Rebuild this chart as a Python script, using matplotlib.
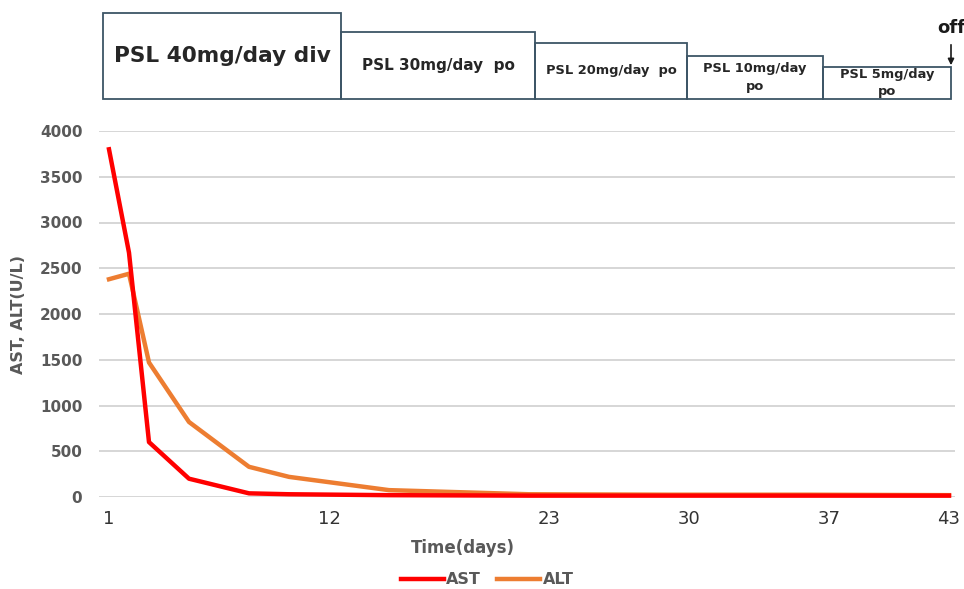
import matplotlib.pyplot as plt
from matplotlib.patches import Rectangle

# data
days = [1, 2, 3, 5, 8, 10, 15, 22, 29, 36, 43]
ast = [3800, 2670, 600, 200, 40, 30, 20, 15, 15, 15, 15]
alt = [2380, 2440, 1470, 820, 330, 220, 75, 30, 25, 25, 20]
xticks = [1, 12, 23, 30, 37, 43]
yticks = [0, 500, 1000, 1500, 2000, 2500, 3000, 3500, 4000]

# treatment phases: label, start day, end day, box height (px), font size
phases = [
    ("PSL 40mg/day div", 0.7, 12.6, 86, 15.6),
    ("PSL 30mg/day  po", 12.6, 22.3, 67, 11),
    ("PSL 20mg/day  po", 22.3, 29.9, 56, 9.4),
    ("PSL 10mg/day\npo", 29.9, 36.7, 43, 9.4),
    ("PSL 5mg/day\npo", 36.7, 43.1, 32, 9.4),
]

plt.rcParams['font.family'] = ['DejaVu Sans']
grey = "#595959"

fig = plt.figure(figsize=(9.64, 5.89), dpi=100)
ax = fig.add_axes([99 / 964, 1 - 497 / 589, 856 / 964, 366 / 589])

ax.plot(days, ast, color="#FF0000", lw=3.2, label="AST", clip_on=False, zorder=3)
ax.plot(days, alt, color="#ED7D31", lw=3.2, label="ALT", clip_on=False, zorder=2)

ax.set_xlim(0.5, 43.3)
ax.set_ylim(0, 4000)
ax.set_yticks(yticks)
ax.set_xticks(xticks)
ax.set_xticklabels([str(t) for t in xticks], fontsize=13, color="#333333")
ax.set_yticklabels([str(t) for t in yticks], fontsize=11, color=grey, fontweight="bold")
ax.tick_params(length=0, pad=12)
ax.tick_params(axis="x", pad=9)
ax.grid(axis="y", color="#d0d0d0", lw=1.2)
ax.set_axisbelow(True)
for s in ax.spines.values():
    s.set_visible(False)

ax.set_ylabel("AST, ALT(U/L)", fontsize=11.5, color=grey, fontweight="bold", labelpad=10)
ax.set_xlabel("Time(days)", fontsize=12, color=grey, fontweight="bold")
ax.xaxis.set_label_coords(0.425, -0.115)

fig.legend(loc="center", bbox_to_anchor=(487 / 964, 1 - 580 / 589), ncol=2,
           frameon=False, handlelength=2.7, handletextpad=0.15, columnspacing=1.0,
           prop={"size": 11.5, "weight": "bold"}, labelcolor=grey)

trans = ax.get_xaxis_transform()


def ypix(p):
    # figure pixel row -> axes y fraction
    return (497 - p) / 366


for label, x0, x1, h, fs in phases:
    yb = ypix(99)
    yt = ypix(99 - h)
    r = Rectangle((x0, yb), x1 - x0, yt - yb, transform=trans, fill=False,
                  edgecolor="#3d5566", lw=1.3, clip_on=False)
    ax.add_patch(r)
    ax.text((x0 + x1) / 2, (yb + yt) / 2, label, transform=trans, ha="center",
            va="center", fontsize=fs, fontweight="bold", color="#262626",
            linespacing=1.45)

ax.text(43.1, ypix(28), "off", transform=trans, ha="center", va="center",
        fontsize=13, fontweight="bold", color="#1a1a1a")
ax.annotate("", xy=(43.1, ypix(68)), xytext=(43.1, ypix(42)), xycoords=trans,
            textcoords=trans, arrowprops=dict(arrowstyle="-|>", color="#1a1a1a",
                                              lw=1.2, mutation_scale=9))

fig.savefig("out.png", dpi=100)
